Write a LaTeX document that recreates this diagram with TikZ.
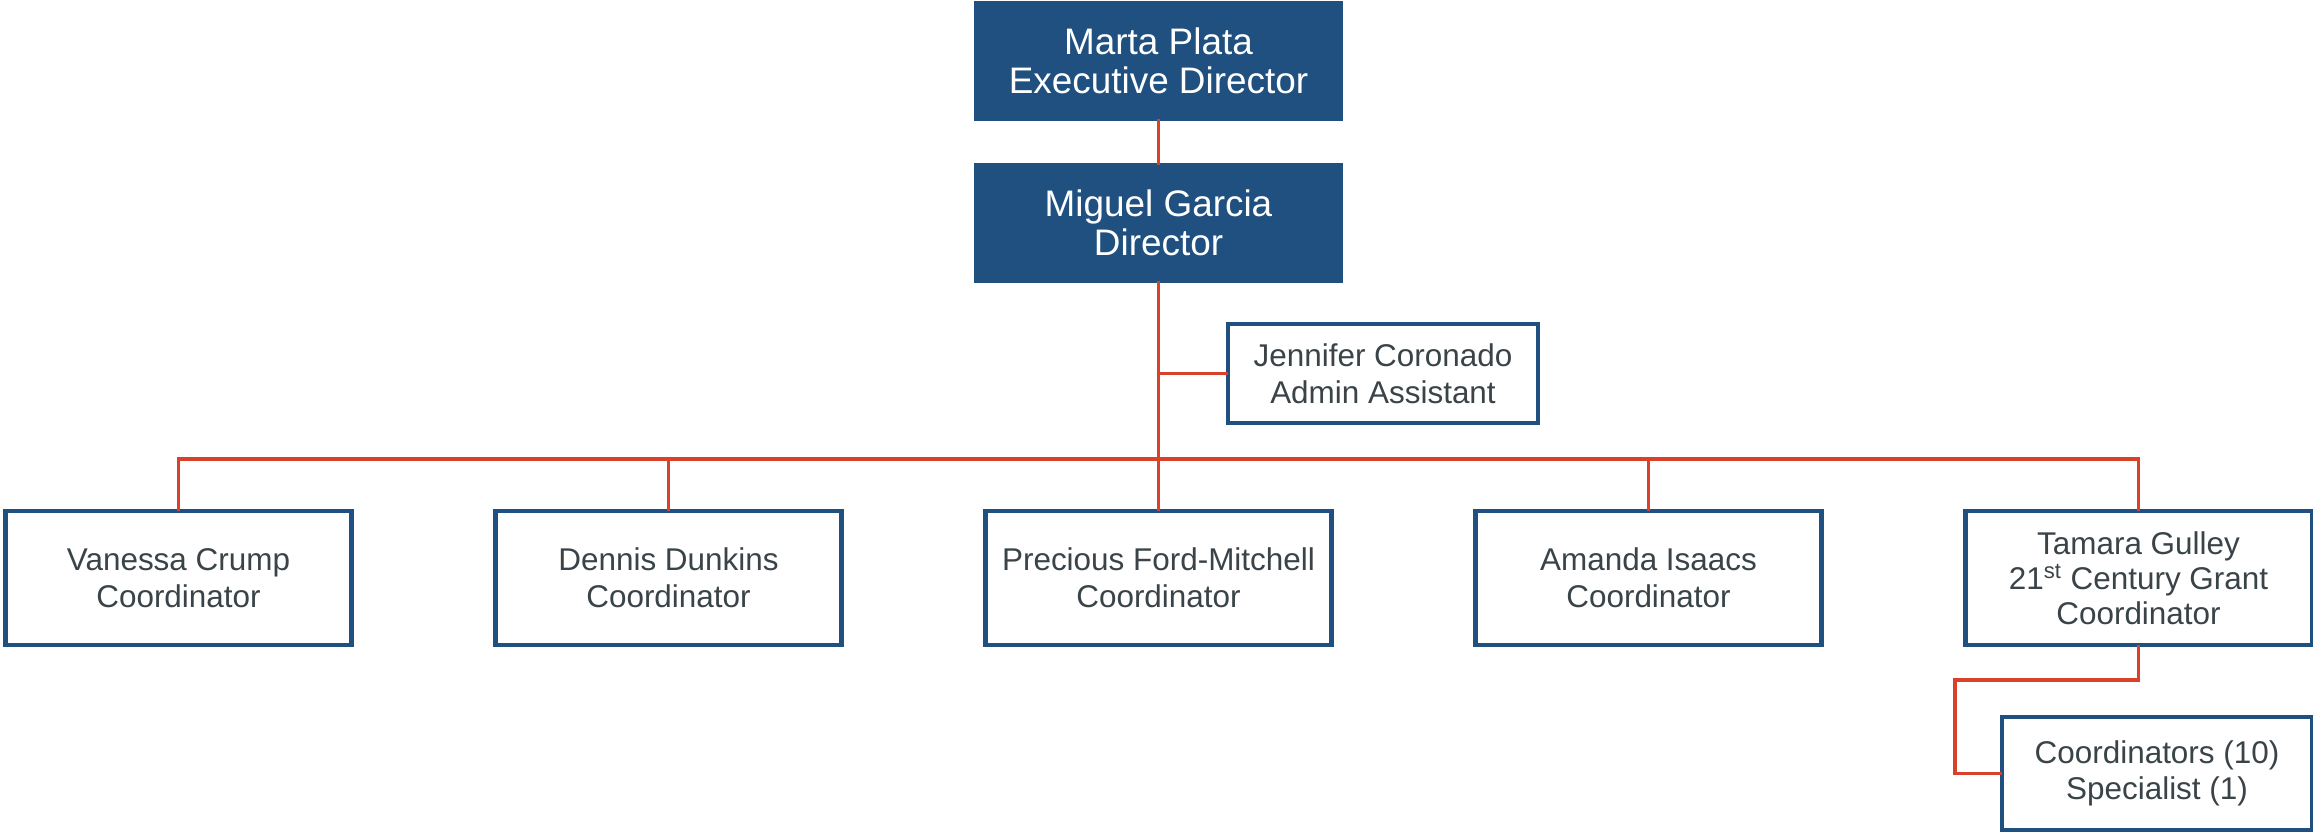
\documentclass[tikz,border=0pt]{standalone}
\usepackage{fontspec}
\setmainfont{Liberation Sans}
\definecolor{navy}{RGB}{31, 80, 128}
\definecolor{brick}{RGB}{217, 65, 43}
\definecolor{slate}{RGB}{58, 68, 72}
\usetikzlibrary{positioning, calc}

\begin{document}
\begin{tikzpicture}[
    head/.style={fill=navy, draw=navy, line width=2.3pt, text=white, align=center, inner sep=0pt, outer sep=0pt,
        minimum width=7.3cm, minimum height=2.32cm, font=\fontsize{21}{22.5}\selectfont},
    staffbox/.style={fill=white, draw=navy, line width=2.3pt, text=slate, align=center, inner sep=0pt, outer sep=0pt,
        minimum width=6.92cm, minimum height=2.68cm, font=\fontsize{17.9}{20.8}\selectfont},
    link/.style={draw=brick, line width=2pt}
    ]
    \useasboundingbox (0,0) rectangle (46.26,-16.66);

    % Leadership
    \node[head] (exec) at (23.17,-1.22) {Marta Plata\\Executive Director};
    \node[head] (dir) [below=0.92cm of exec] {Miguel Garcia\\Director};

    % Assistant
    \node[staffbox, minimum width=6.2cm, minimum height=1.98cm] (admin) at (27.66,-7.47) {Jennifer Coronado\\Admin Assistant};

    % Coordinators row
    \node[staffbox] (c3) [below=4.6cm of dir] {Precious Ford-Mitchell\\Coordinator};
    \node[staffbox] (c2) [left=2.88cm of c3] {Dennis Dunkins\\Coordinator};
    \node[staffbox] (c1) [left=2.88cm of c2] {Vanessa Crump\\Coordinator};
    \node[staffbox] (c4) [right=2.88cm of c3] {Amanda Isaacs\\Coordinator};
    \node[staffbox, font=\fontsize{17.9}{19.8}\selectfont] (c5) [right=2.88cm of c4] {Tamara Gulley\\21\textsuperscript{st} Century Grant\\Coordinator};

    % Grant staff
    \node[staffbox, minimum width=6.2cm, minimum height=2.26cm] (staff) at (43.14,-15.47) {Coordinators (10)\\Specialist (1)};

    % Connectors
    \coordinate (bus) at (23.17,-9.18);
    \coordinate (turn) at (39.1,-13.6);
    \draw[link] (exec) -- (dir);
    \draw[link] (dir) -- (c3);
    \draw[link] (dir.south |- admin.west) -- (admin.west);
    \draw[link] (c1.north) |- (bus) -| (c5.north);
    \draw[link] (c2.north) -- (c2.north |- bus);
    \draw[link] (c4.north) -- (c4.north |- bus);
    \draw[link] (c5.south) |- (turn) |- (staff.west);
\end{tikzpicture}
\end{document}
